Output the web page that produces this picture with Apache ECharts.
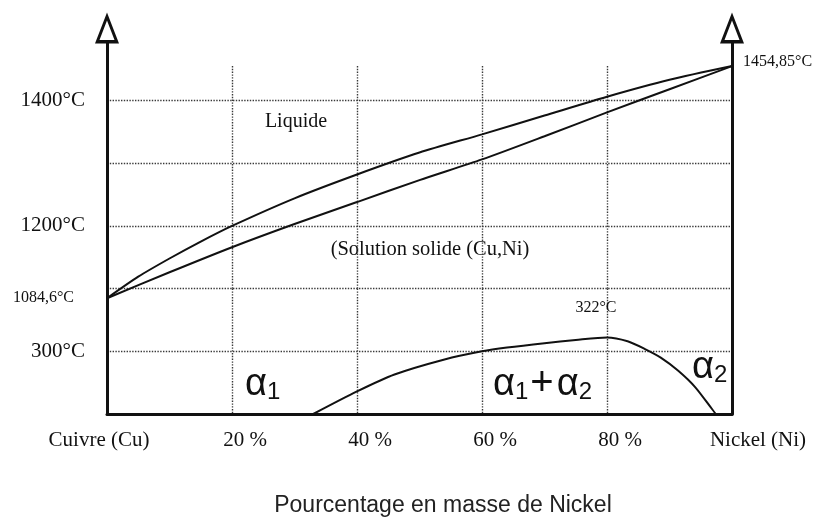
<!DOCTYPE html>
<html>
<head>
<meta charset="utf-8">
<script src="https://cdn.jsdelivr.net/npm/echarts@6.0.0/dist/echarts.min.js"></script>
<style>
  html, body { margin: 0; padding: 0; background: #fff; }
  #main { width: 816px; height: 529px; }
</style>
</head>
<body>
<div id="main"></div>
<script>
// axes
const xTicks = [0, 20, 40, 60, 80, 100];
const xTickLabels = ['Cuivre (Cu)', '20 %', '40 %', '60 %', '80 %', 'Nickel (Ni)'];
const yTickValues = [300, 1200, 1400];
const yTickLabels = ['300°C', '1200°C', '1400°C'];

// liquidus (% Ni, °C)
const liquidusX = [0, 5, 10, 15, 20, 30, 40, 50, 60, 70, 80, 90, 100];
const liquidusT = [1084.6, 1119, 1148, 1175, 1200, 1244, 1282, 1317, 1346, 1376, 1406, 1433, 1454.85];
// solidus
const solidusX = [0, 10, 20, 30, 40, 50, 60, 70, 80, 90, 100];
const solidusT = [1084.6, 1126, 1166, 1203, 1238, 1273, 1306, 1343, 1381, 1418, 1454.85];
// lacune de miscibilite (partie basse du diagramme)
const gapX = [33, 40, 46, 54, 60, 64, 70, 75, 80, 83.3, 86, 88.6, 91.4, 94.1, 96.8, 97.4];
const gapT = [200, 236, 263, 287, 300, 306, 313, 318, 322, 316, 304, 290, 269, 243, 208, 200];

const cuLabel = '1084,6°C';
const niLabel = '1454,85°C';
const critLabel = '322°C';

const serif = 'Liberation Serif';
const sans = 'Liberation Sans';
const ink = '#111';
const gridLine = { color: '#3a3a3a', width: 1.4, type: 'dotted' };

const chart = echarts.init(document.getElementById('main'));

// open triangle arrow for the two vertical axes
const arrowPath = 'path://M12,0 L24,31 L0,31 Z M12,8 L4.5,27.5 L19.5,27.5 Z';

const liqData = liquidusX.map((x, i) => {
  const item = { value: [x, liquidusT[i]] };
  if (i === 0) {
    item.label = { show: true, position: 'left', distance: 33, formatter: cuLabel,
      fontFamily: serif, fontSize: 16, color: ink };
  }
  if (i === liquidusX.length - 1) {
    item.label = { show: true, position: 'right', distance: 11, offset: [0, -4], formatter: niLabel,
      fontFamily: serif, fontSize: 16, color: ink };
  }
  return item;
});
const solData = solidusX.map((x, i) => [x, solidusT[i]]);
const peak = gapT.indexOf(Math.max(...gapT));
const gapData = gapX.map((x, i) => {
  const item = { value: [x, gapT[i]] };
  if (i === peak) {
    item.label = { show: true, position: 'top', distance: 22, offset: [-11, 0], formatter: critLabel,
      fontFamily: serif, fontSize: 16, color: ink };
  }
  return item;
});

const curve = {
  type: 'line', smooth: 0.25, symbol: 'circle', symbolSize: 0, showSymbol: true,
  lineStyle: { color: ink, width: 2 }, itemStyle: { color: ink },
  silent: true, animation: false
};

const alphaRich = {
  a: { fontFamily: sans, fontSize: 38, lineHeight: 40, verticalAlign: 'bottom', color: ink },
  p: { fontFamily: sans, fontSize: 40, lineHeight: 40, verticalAlign: 'bottom', color: ink, padding: [0, 3, 0, 2] },
  s: { fontFamily: sans, fontSize: 24, lineHeight: 24, verticalAlign: 'bottom', color: ink }
};

const yLabel = {
  margin: 22, fontFamily: serif, fontSize: 21, color: ink,
  formatter: v => {
    const i = yTickValues.indexOf(v);
    return i < 0 ? '' : yTickLabels[i];
  }
};

const option = {
  backgroundColor: '#fff',
  animation: false,
  grid: [
    // haut : liquide / solution solide
    { left: 107, right: 84, top: 66, bottom: 240.4 },
    // bas : basses temperatures
    { left: 107, right: 84, top: 288.6, bottom: 115 },
    // cadre avec fleches
    { left: 107, right: 84, top: 43, bottom: 115 }
  ],
  xAxis: [
    {
      gridIndex: 0, type: 'value', min: 0, max: 100, interval: 20,
      axisLine: { show: false }, axisTick: { show: false }, axisLabel: { show: false },
      splitLine: { show: true, showMinLine: false, showMaxLine: false, lineStyle: gridLine }
    },
    {
      gridIndex: 1, type: 'value', min: 0, max: 100, interval: 20,
      axisLine: { lineStyle: { color: ink, width: 3 } },
      axisTick: { show: false },
      splitLine: { show: true, showMinLine: false, showMaxLine: false, lineStyle: gridLine },
      axisLabel: {
        margin: 16, showMinLabel: true, showMaxLabel: true,
        fontFamily: serif, fontSize: 21, color: ink,
        formatter: v => {
          const i = xTicks.indexOf(v);
          if (i < 0) return '';
          const cls = i === 0 ? 'cu' : (i === xTicks.length - 1 ? 'ni' : 'mid');
          return '{' + cls + '|' + xTickLabels[i] + '}';
        },
        rich: {
          cu: { fontFamily: serif, fontSize: 21, color: ink, padding: [0, 16, 0, 0] },
          mid: { fontFamily: serif, fontSize: 21, color: ink, padding: [0, 0, 0, 26] },
          ni: { fontFamily: serif, fontSize: 21, color: ink, padding: [0, 0, 0, 52] }
        }
      },
      name: 'Pourcentage en masse de Nickel',
      nameLocation: 'middle', nameGap: 80,
      nameTextStyle: { fontFamily: sans, fontSize: 23, color: '#222', padding: [0, 0, 0, 47] }
    },
    { gridIndex: 2, type: 'value', min: 0, max: 1, show: false }
  ],
  yAxis: [
    {
      gridIndex: 0, type: 'value', min: 1100, max: 1455, interval: 100,
      axisLine: { show: false }, axisTick: { show: false },
      splitLine: { show: true, showMinLine: true, showMaxLine: false, lineStyle: gridLine },
      axisLabel: yLabel
    },
    {
      gridIndex: 1, type: 'value', min: 200, max: 400, interval: 100,
      axisLine: { show: false }, axisTick: { show: false },
      splitLine: { show: true, showMinLine: false, showMaxLine: false, lineStyle: gridLine },
      axisLabel: yLabel
    },
    {
      gridIndex: 2, type: 'value', min: 0, max: 1, position: 'left',
      axisLine: { show: true, symbol: ['none', arrowPath], symbolSize: [25, 31], symbolOffset: [0, 15],
        lineStyle: { color: ink, width: 3 } },
      axisTick: { show: false }, axisLabel: { show: false }, splitLine: { show: false }
    },
    {
      gridIndex: 2, type: 'value', min: 0, max: 1, position: 'right',
      axisLine: { show: true, symbol: ['none', arrowPath], symbolSize: [25, 31], symbolOffset: [0, 15],
        lineStyle: { color: ink, width: 3 } },
      axisTick: { show: false }, axisLabel: { show: false }, splitLine: { show: false }
    }
  ],
  series: [
    Object.assign({}, curve, { name: 'Liquidus', xAxisIndex: 0, yAxisIndex: 0, clip: false, data: liqData }),
    Object.assign({}, curve, { name: 'Solidus', xAxisIndex: 0, yAxisIndex: 0, clip: false, data: solData }),
    Object.assign({}, curve, { name: 'Lacune', xAxisIndex: 1, yAxisIndex: 1, data: gapData })
  ],
  graphic: [
    { type: 'text', x: 296, y: 122, style: { text: 'Liquide', fontFamily: serif, fontSize: 20, fill: ink,
      align: 'center', verticalAlign: 'middle', textAlign: 'center', textVerticalAlign: 'middle' } },
    { type: 'text', x: 430, y: 250, style: { text: '(Solution solide (Cu,Ni)', fontFamily: serif, fontSize: 20.5, fill: ink,
      align: 'center', verticalAlign: 'middle', textAlign: 'center', textVerticalAlign: 'middle' } },
    { type: 'text', x: 245, y: 384, style: { text: '{a|α}{s|1}', rich: alphaRich, fill: ink,
      align: 'left', verticalAlign: 'middle', textAlign: 'left', textVerticalAlign: 'middle' } },
    { type: 'text', x: 493, y: 384, style: { text: '{a|α}{s|1}{p|+}{a|α}{s|2}', rich: alphaRich, fill: ink,
      align: 'left', verticalAlign: 'middle', textAlign: 'left', textVerticalAlign: 'middle' } },
    { type: 'text', x: 692, y: 367, style: { text: '{a|α}{s|2}', rich: alphaRich, fill: ink,
      align: 'left', verticalAlign: 'middle', textAlign: 'left', textVerticalAlign: 'middle' } }
  ]
};

chart.setOption(option);
</script>
</body>
</html>
